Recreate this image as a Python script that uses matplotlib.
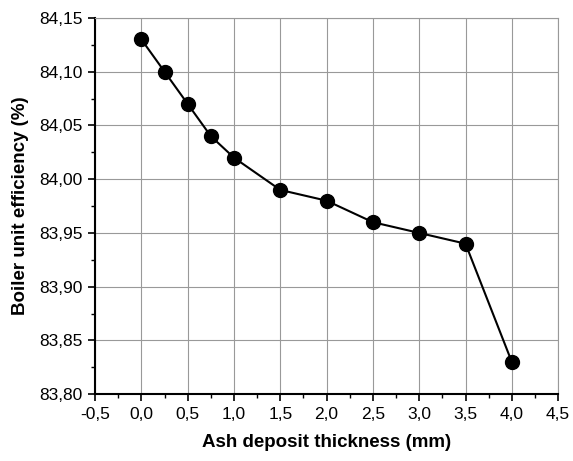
import matplotlib
matplotlib.use("Agg")
import matplotlib.pyplot as plt
from matplotlib.ticker import MultipleLocator, FuncFormatter

thickness = [0.0, 0.25, 0.5, 0.75, 1.0, 1.5, 2.0, 2.5, 3.0, 3.5, 4.0]
efficiency = [84.13, 84.10, 84.07, 84.04, 84.02, 83.99, 83.98, 83.96, 83.95, 83.94, 83.83]

plt.rcParams["font.family"] = ["Liberation Sans", "DejaVu Sans"]

fig = plt.figure(figsize=(5.73, 4.61), dpi=100)
ax = fig.add_axes([0.166, 0.145, 0.808, 0.816])

ax.plot(thickness, efficiency, color="black", linewidth=1.5, marker="o",
        markersize=10, markerfacecolor="black", zorder=3)

ax.set_xlim(-0.5, 4.5)
ax.set_ylim(83.80, 84.15)
ax.xaxis.set_major_locator(MultipleLocator(0.5))
ax.xaxis.set_minor_locator(MultipleLocator(0.25))
ax.yaxis.set_major_locator(MultipleLocator(0.05))
ax.yaxis.set_minor_locator(MultipleLocator(0.025))
ax.xaxis.set_major_formatter(FuncFormatter(lambda v, p: f"{v:.1f}".replace(".", ",")))
ax.yaxis.set_major_formatter(FuncFormatter(lambda v, p: f"{v:.2f}".replace(".", ",")))

ax.grid(True, which="major", color="#999999", linewidth=0.8)
ax.set_axisbelow(True)

for side in ("top", "right"):
    ax.spines[side].set_color("#999999")
    ax.spines[side].set_linewidth(0.8)
for side in ("left", "bottom"):
    ax.spines[side].set_linewidth(1.5)

ax.tick_params(which="major", direction="out", length=5, width=1.2, labelsize=12.5,
               top=False, right=False, pad=4)
ax.tick_params(which="minor", direction="out", length=3, width=1.0,
               top=False, right=False)

ax.set_xlabel("Ash deposit thickness (mm)", fontsize=13.5, fontweight="bold", labelpad=9)
ax.set_ylabel("Boiler unit efficiency (%)", fontsize=13.5, fontweight="bold", labelpad=7)

fig.savefig("out.png", dpi=100)
